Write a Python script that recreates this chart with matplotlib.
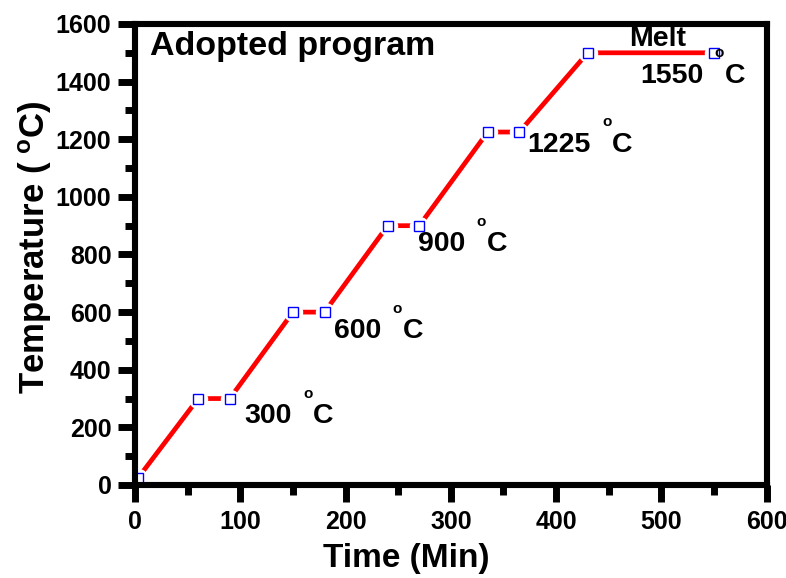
import matplotlib
matplotlib.use("Agg")
import matplotlib.pyplot as plt
from matplotlib.ticker import MultipleLocator

plt.rcParams['font.family'] = ['Liberation Sans', 'DejaVu Sans']
plt.rcParams['font.weight'] = 'bold'
plt.rcParams['mathtext.fontset'] = 'custom'
plt.rcParams['mathtext.rm'] = 'Liberation Sans:bold'
plt.rcParams['mathtext.bf'] = 'Liberation Sans:bold'
plt.rcParams['mathtext.it'] = 'Liberation Sans:bold'

# heating schedule: time (min) vs furnace temperature (C)
time_min = [3, 60, 90, 150, 180, 240, 270, 335, 365, 430, 550]
temp_c = [25, 300, 300, 600, 600, 900, 900, 1225, 1225, 1500, 1500]

# hold labels: (x, y baseline, number)
hold_labels = [(104, 215, "300"), (189, 510, "600"), (269, 812, "900"),
               (373, 1156, "1225"), (480, 1396, "1550")]

fig = plt.figure(figsize=(7.86, 5.78), dpi=100)
ax = fig.add_axes([0.1718, 0.1609, 0.8036, 0.7976])

ax.plot(time_min, temp_c, color='red', lw=3.4, zorder=1.5, solid_capstyle='butt')
# white halo so the line stops short of each symbol
ax.plot(time_min, temp_c, ls='none', marker='o', ms=14, mfc='white', mec='none', zorder=1.8)
ax.plot(time_min, temp_c, ls='none', marker='s', ms=7.2, mfc='white', mec='blue', mew=1.0, zorder=2.2)


def degree_label(x, y, num):
    t = ax.text(x, y, num, fontsize=20.5, fontweight='bold', va='baseline', ha='left')
    o = ax.annotate("o", xy=(1, 0), xycoords=t, xytext=(8, 20.5), textcoords='offset points',
                    fontsize=11, fontweight='bold', va='bottom', ha='left')
    ax.annotate("C", xy=(1, 0), xycoords=(o, t), xytext=(0.5, 0), textcoords='offset points',
                fontsize=20.5, fontweight='bold', va='bottom', ha='left')


for x, y, num in hold_labels:
    degree_label(x, y, num)

ax.text(469, 1525, "Melt", fontsize=20.5, fontweight='bold', va='baseline')
ax.text(14, 1493, "Adopted program", fontsize=24.5, fontweight='bold', va='baseline')

ax.set_xlim(0, 600)
ax.set_ylim(0, 1600)
ax.xaxis.set_major_locator(MultipleLocator(100))
ax.xaxis.set_minor_locator(MultipleLocator(50))
ax.yaxis.set_major_locator(MultipleLocator(200))
ax.yaxis.set_minor_locator(MultipleLocator(100))

for s in ax.spines.values():
    s.set_linewidth(4.4)
ax.tick_params(which='major', direction='out', length=12, width=5, labelsize=18)
ax.tick_params(axis='x', which='major', pad=6)
ax.tick_params(axis='y', which='major', pad=5)
ax.tick_params(which='minor', direction='out', length=7, width=5)
for lab in ax.get_xticklabels() + ax.get_yticklabels():
    lab.set_fontweight('bold')

ax.set_xlabel("Time (Min)", fontsize=24, fontweight='bold')
ax.set_ylabel(r"Temperature ($\;^{\mathrm{o}}$C)", fontsize=25, fontweight='bold')
ax.xaxis.set_label_coords(0.429, -0.125)
ax.yaxis.set_label_coords(-0.128, 0.515)

fig.savefig("out.png", dpi=100)
